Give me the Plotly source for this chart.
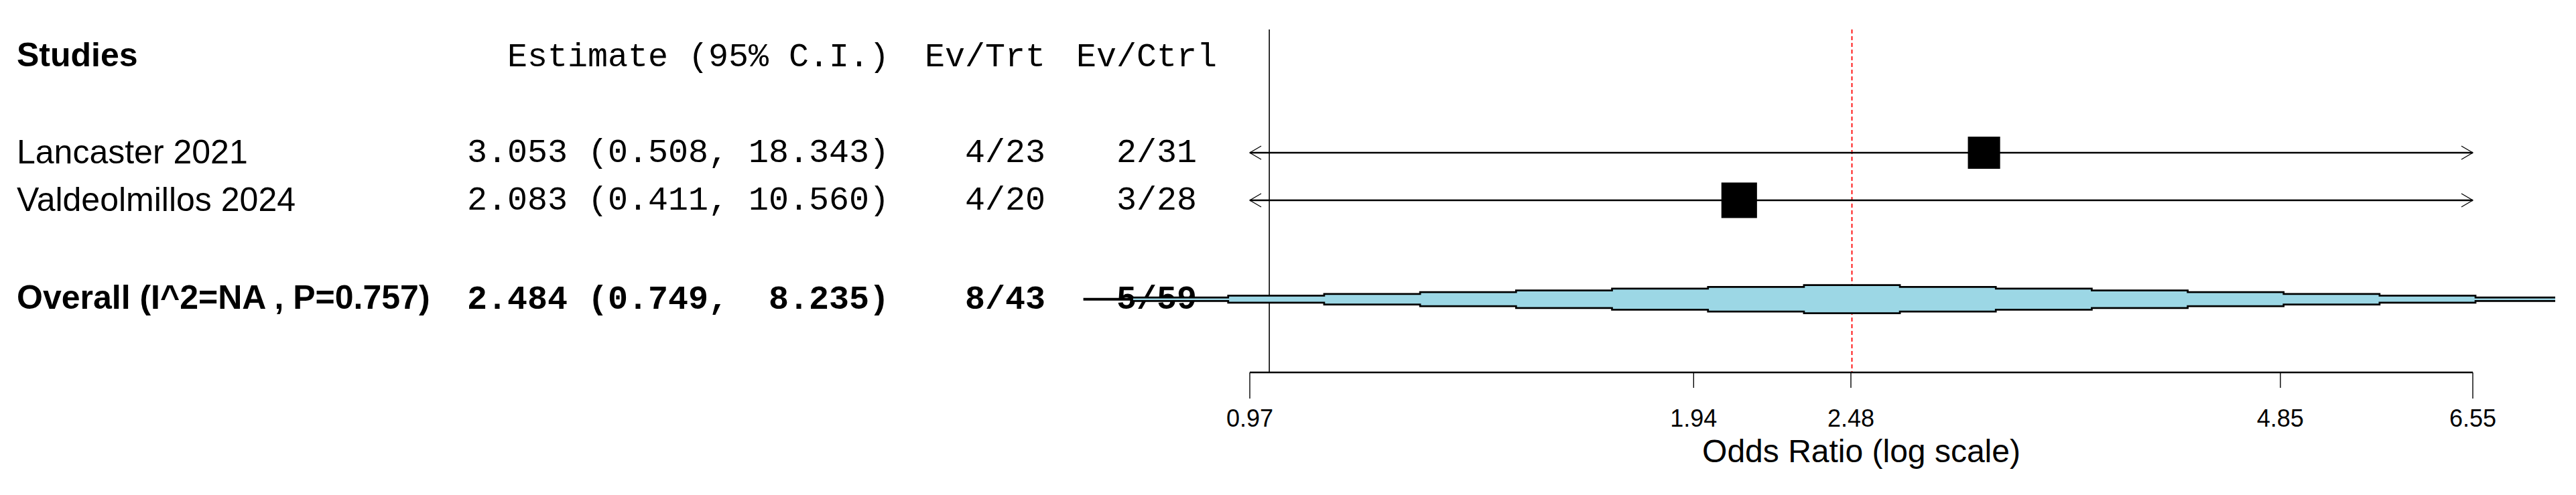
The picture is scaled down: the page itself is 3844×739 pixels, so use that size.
import math
import plotly.graph_objects as go

# ---------------- data ----------------
studies = ["Lancaster 2021", "Valdeolmillos 2024"]
estimates = [3.053, 2.083]
ci_low = [0.508, 0.411]
ci_high = [18.343, 10.560]
ev_trt = ["4/23", "4/20"]
ev_ctrl = ["2/31", "3/28"]

overall_label = "Overall (I^2=NA , P=0.757)"
overall_est = 2.484
overall_low = 0.749
overall_high = 8.235
overall_ev_trt = "8/43"
overall_ev_ctrl = "5/59"

tick_values = [0.97, 1.94, 2.48, 4.85, 6.55]
tick_labels = ["0.97", "1.94", "2.48", "4.85", "6.55"]
null_value = 1.0

header_study = "Studies"
header_est = "Estimate (95% C.I.)"
header_trt = "Ev/Trt"
header_ctrl = "Ev/Ctrl"
x_title = "Odds Ratio (log scale)"

# ---------------- layout constants (pixels) ----------------
W, H = 3844, 739
ROW0 = 86          # y of header row
ROW_STEP = 71      # row spacing
study_rows = [2, 3]
overall_row = 5.08
TOP_PX = 44
AXIS_PX = 556
AX_LEFT_PX = 1865   # pixel of first tick
AX_RIGHT_PX = 3690  # pixel of last tick
CLIP_PX = 3813      # right edge of the forest clipping region

LABEL_X = 25
EST_RIGHT = 1327
TRT_RIGHT = 1560
CTRL_HEAD_LEFT = 1606
CTRL_RIGHT = 1786

SANS = "Liberation Sans, Arial, sans-serif"
MONO = "Liberation Mono, Courier New, monospace"
FS = 50


def row_y(r):
    return ROW0 + ROW_STEP * r


xmin, xmax = tick_values[0], tick_values[-1]
k = (AX_RIGHT_PX - AX_LEFT_PX) / (math.log10(xmax) - math.log10(xmin))  # px per log10 unit
log_range = [math.log10(xmin) - AX_LEFT_PX / k,
             math.log10(xmin) + (CLIP_PX - AX_LEFT_PX) / k]


def shift(v, dpx):
    return v * 10 ** (dpx / k)


fig = go.Figure()

# ---------------- text table (subplot x/y, pixel units) ----------------
def add_text(xs, ys, texts, pos, font, size, bold=False):
    fig.add_trace(go.Scatter(
        x=xs, y=ys, text=[f"<b>{t}</b>" if bold else t for t in texts],
        mode="text", textposition=pos, cliponaxis=False,
        textfont=dict(family=font, size=size, color="black"),
        xaxis="x", yaxis="y", hoverinfo="skip", showlegend=False))


hy = row_y(0)
add_text([LABEL_X], [hy], [header_study], "middle right", SANS, FS, bold=True)
add_text([EST_RIGHT], [hy], [header_est], "middle left", MONO, FS)
add_text([TRT_RIGHT], [hy], [header_trt], "middle left", MONO, FS)
add_text([CTRL_HEAD_LEFT], [hy], [header_ctrl], "middle right", MONO, FS)

sy = [row_y(r) for r in study_rows]
est_txt = [f"{e:.3f} ({l:.3f}, {h:6.3f})" for e, l, h in zip(estimates, ci_low, ci_high)]
add_text([LABEL_X] * len(studies), [y + 3 for y in sy], studies, "middle right", SANS, FS)
add_text([EST_RIGHT] * len(studies), [y + 1 for y in sy], est_txt, "middle left", MONO, FS)
add_text([TRT_RIGHT] * len(studies), [y + 1 for y in sy], ev_trt, "middle left", MONO, FS)
add_text([CTRL_RIGHT] * len(studies), [y + 1 for y in sy], ev_ctrl, "middle left", MONO, FS)

oy = row_y(overall_row)
o_est_txt = f"{overall_est:.3f} ({overall_low:.3f}, {overall_high:6.3f})"
add_text([LABEL_X], [oy + 2], [overall_label], "middle right", SANS, FS, bold=True)
add_text([EST_RIGHT], [oy + 2], [o_est_txt], "middle left", MONO, FS, bold=True)
add_text([TRT_RIGHT], [oy + 2], [overall_ev_trt], "middle left", MONO, FS, bold=True)
add_text([CTRL_RIGHT], [oy + 2], [overall_ev_ctrl], "middle left", MONO, FS, bold=True)

# ---------------- forest (subplot x2/y2) ----------------
def line2(xs, ys, color="black", width=1.5, dash=None):
    fig.add_trace(go.Scatter(
        x=xs, y=ys, mode="lines", line=dict(color=color, width=width, dash=dash),
        xaxis="x2", yaxis="y2", hoverinfo="skip", showlegend=False))


# null line
line2([null_value, null_value], [TOP_PX, AXIS_PX], width=1.6)
# overall estimate dashed line
line2([overall_est, overall_est], [TOP_PX, AXIS_PX], color="#FF0000", width=1.8, dash="6px,4px")

# CI lines with arrows
for e, l, h, y in zip(estimates, ci_low, ci_high, sy):
    lo_c, hi_c = max(l, xmin), min(h, xmax)
    line2([lo_c, hi_c], [y, y], width=2.6)
    if l < xmin:
        line2([shift(xmin, 17), xmin, shift(xmin, 17)], [y - 10, y, y + 10], width=1.3)
    if h > xmax:
        line2([shift(xmax, -17), xmax, shift(xmax, -17)], [y - 10, y, y + 10], width=1.3)

# squares, size from inverse-variance weight
weights = []
for l, h in zip(ci_low, ci_high):
    se = (math.log(h) - math.log(l)) / (2 * 1.96)
    weights.append(1 / se ** 2)
sizes = [44 * math.sqrt(w) for w in weights]
fig.add_trace(go.Scatter(
    x=estimates, y=sy, mode="markers",
    marker=dict(symbol="square", size=sizes, color="#000000", opacity=1,
                line=dict(width=0, color="#000000")),
    xaxis="x2", yaxis="y2", hoverinfo="skip", showlegend=False))

# stepped diamond for the overall estimate
NSTEP = 8
HALF_H = 21
le, ll, lh = math.log(overall_est), math.log(overall_low), math.log(overall_high)
pieces = []
for side, span in ((-1, le - ll), (1, lh - le)):
    w = span / NSTEP
    segs = [(0.5 * w + (j - 1) * w, 0.5 * w + j * w, 1 - j / NSTEP) for j in range(1, NSTEP)]
    segs.append((NSTEP * w - 0.5 * w, NSTEP * w, 1 - (NSTEP - 0.25) / NSTEP))
    for a, b, f in segs:
        if side < 0:
            pieces.append((le - b, le - a, f))
        else:
            pieces.append((le + a, le + b, f))
wl, wr = (le - ll) / NSTEP, (lh - le) / NSTEP
pieces.append((le - 0.5 * wl, le + 0.5 * wr, 1.0))
pieces.sort()
px, py = [math.exp(pieces[0][0])], [oy]
for a, b, f in pieces:
    px += [math.exp(a), math.exp(b)]
    py += [oy - HALF_H * f, oy - HALF_H * f]
px.append(math.exp(pieces[-1][1]))
py.append(oy)
for a, b, f in reversed(pieces):
    px += [math.exp(b), math.exp(a)]
    py += [oy + HALF_H * f, oy + HALF_H * f]
px.append(px[0])
py.append(py[0])
fig.add_trace(go.Scatter(
    x=px, y=py, mode="lines", fill="toself", fillcolor="#9CD7E5",
    line=dict(color="black", width=2.7),
    xaxis="x2", yaxis="y2", hoverinfo="skip", showlegend=False))

# x axis (drawn manually)
line2([xmin, xmax], [AXIS_PX, AXIS_PX], width=2.6)
for i, t in enumerate(tick_values):
    tick_len = 39 if i in (0, len(tick_values) - 1) else 23
    line2([t, t], [AXIS_PX, AXIS_PX + tick_len], width=1.4)
fig.add_trace(go.Scatter(
    x=tick_values, y=[628] * len(tick_values), text=tick_labels, mode="text",
    textposition="middle center", cliponaxis=False,
    textfont=dict(family=SANS, size=36, color="black"),
    xaxis="x2", yaxis="y2", hoverinfo="skip", showlegend=False))
fig.add_trace(go.Scatter(
    x=[math.sqrt(xmin * xmax)], y=[678], text=[x_title], mode="text",
    textposition="middle center", cliponaxis=False,
    textfont=dict(family=SANS, size=48, color="black"),
    xaxis="x2", yaxis="y2", hoverinfo="skip", showlegend=False))

fig.update_layout(
    width=W, height=H,
    margin=dict(l=0, r=0, t=0, b=0),
    paper_bgcolor="white", plot_bgcolor="rgba(0,0,0,0)",
    showlegend=False, hovermode=False,
    xaxis=dict(domain=[0, 1], range=[0, W], visible=False, fixedrange=True),
    yaxis=dict(domain=[0, 1], range=[H, 0], visible=False, fixedrange=True),
    xaxis2=dict(domain=[0, CLIP_PX / W], type="log", range=log_range, visible=False,
                anchor="y2", fixedrange=True),
    yaxis2=dict(domain=[0, 1], range=[H, 0], visible=False, anchor="x2", fixedrange=True),
)

fig.write_html("out.html", config={"displayModeBar": False},
               post_script="document.body.style.margin='0';document.body.style.overflow='hidden';")
